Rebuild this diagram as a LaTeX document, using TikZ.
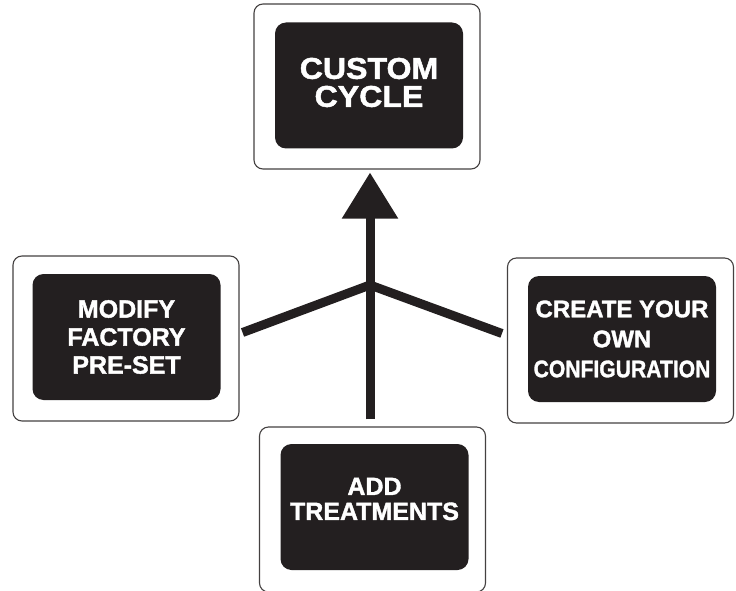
\documentclass[tikz,border=0pt]{standalone}
\usepackage{fontspec}
\newfontfamily\heavy{Liberation Sans Bold}[FakeBold=1.5]
\usetikzlibrary{arrows.meta}
\definecolor{ink}{HTML}{231F20}
\begin{document}
\begin{tikzpicture}[x=1pt,y=1pt,
  frame/.style={draw=ink!85, line width=1.1pt, rounded corners=9pt,
    minimum width=226pt, minimum height=165pt, inner sep=0pt},
  panel/.style={fill=ink, rounded corners=11pt,
    minimum width=188pt, minimum height=126pt, inner sep=0pt},
  caption/.style={text=white, align=center, inner sep=0pt,
    font=\heavy\fontsize{25}{28}\selectfont},
  shaft/.style={draw=ink, line width=9pt,
    -{Triangle[width=54pt,length=46pt]}},
  branch/.style={draw=ink, line width=9pt, line join=miter}]
\clip (0,0) rectangle (736,590);

% custom cycle (top)
\node[frame] (cycle) at (367,503.5) {};
\node[panel] (cycle-box) at (369,504.5) {};
\node[caption, font=\heavy\fontsize{30}{28}\selectfont]
  at ([yshift=3pt]cycle-box.center) {\scalebox{1.07}[1]{CUSTOM}\\\scalebox{1.07}[1]{CYCLE}};

% modify factory pre-set (left)
\node[panel] (modify-box) at (126.5,253) {};
\node[frame] (modify) at (126,251.5) {};
\node[caption] at (modify-box.center) {MODIFY\\FACTORY\\PRE-SET};

% create your own configuration (right)
\node[frame] (create) at (620.5,249.5) {};
\node[panel] (create-box) at (622,251) {};
\node[caption, font=\heavy\fontsize{24}{30}\selectfont] at (create-box.center)
  {CREATE YOUR\\OWN\\\scalebox{0.88}[1]{CONFIGURATION}};

% add treatments (bottom, runs off the page)
\node[frame] (treat) at (372.5,80.5) {};
\node[panel] (treat-box) at (374.5,83) {};
\node[caption, font=\heavy\fontsize{25}{25}\selectfont]
  at ([yshift=8pt]treat-box.center) {ADD\\TREATMENTS};

% connectors
\coordinate (hub) at (370,305);
\draw[shaft, shorten <=7pt, shorten >=3pt] (hub |- treat.north) -- (hub |- cycle.south);
\draw[branch] ([xshift=3pt,yshift=6pt]modify.east) -- (hub)
  -- ([xshift=-5pt,yshift=7pt]create.west);
\end{tikzpicture}
\end{document}
